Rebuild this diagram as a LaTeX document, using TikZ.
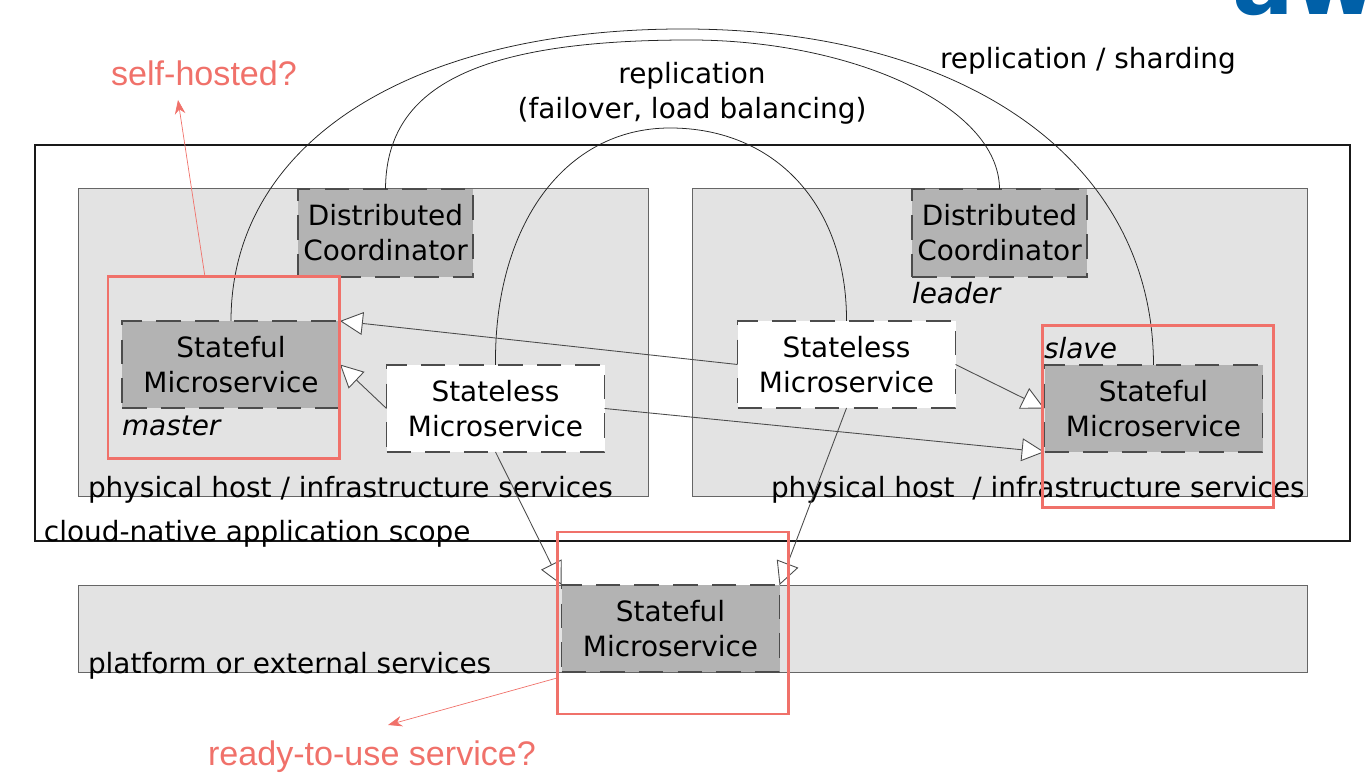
\documentclass[tikz,border=0pt]{standalone}
\usepackage{fontspec}
\setmainfont{DejaVu Sans}
\newfontfamily\redfont{Liberation Sans}
\usetikzlibrary{arrows.meta}
\definecolor{hostgray}{HTML}{E3E3E3}
\definecolor{servicegray}{HTML}{B3B3B3}
\definecolor{redmark}{HTML}{F0716A}
\definecolor{logoblue}{HTML}{0060A8}

\begin{document}
\begin{tikzpicture}
[x=0.01cm,y=-0.01cm,%%%%%%%%%%%%%%%%%%%%%%%%%%%%%%
every node/.style={inner sep=0pt,outer sep=0pt,font=\fontsize{7.94}{9.9}\selectfont},
line/.style={draw=black!70,line width=0.25pt},
hostbox/.style={rectangle,fill=hostgray,draw=black!60,line width=0.28pt},
scopebox/.style={rectangle,draw=black!90,line width=0.3pt,minimum width=1315*0.01cm,minimum height=396*0.01cm},
service/.style={rectangle,draw=black!70,line width=0.3pt,dash pattern=on 7pt off 4pt,align=center,minimum width=218*0.01cm,minimum height=87*0.01cm},
stateful/.style={service,fill=servicegray},
stateless/.style={service,fill=white},
coordinator/.style={service,fill=servicegray,minimum width=175*0.01cm,minimum height=88*0.01cm},
redbox/.style={rectangle,draw=redmark,line width=0.85pt,minimum width=231*0.01cm,minimum height=182*0.01cm},
redlabel/.style={text=redmark,font=\redfont\fontsize{9.7}{12}\selectfont},
arc/.style={draw=black!85,line width=0.22pt},
uses/.style={line,-{Triangle[open,fill=white,length=6.5pt,width=6.5pt]}},
redarrow/.style={draw=redmark,line width=0.2pt,-{Stealth[length=4pt,width=3pt]}},
]%%%%%%%%%%%%%%%%%%%%%%%%%%%%%%
\useasboundingbox (0,0) rectangle (1370,780);

\node[text=logoblue,anchor=base west,font=\bfseries\fontsize{26}{26}\selectfont] (logo) at (1232,15){aw};

\node[scopebox] (scope) at (692.5,343){};
\node[hostbox,minimum width=570*0.01cm,minimum height=307*0.01cm] (hostleft) at (363,342.5){};
\node[hostbox,minimum width=615*0.01cm,minimum height=307*0.01cm] (hostright) at (999.5,342.5){};
\node[hostbox,minimum width=1229*0.01cm,minimum height=87*0.01cm] (platform) at (692.5,628.5){};

\foreach \nm/\x in {dcleft/385.5,dcright/999.5}
\node[coordinator] (\nm) at (\x,233){Distributed\\Coordinator};

\foreach \nm/\x/\y in {master/231/364.5,slave/1153.5/408.5,external/670.5/628.5}
\node[stateful] (\nm) at (\x,\y){Stateful\\Microservice};

\foreach \nm/\x/\y in {freeleft/495.5/408.5,freeright/846.5/364.5}
\node[stateless] (\nm) at (\x,\y){Stateless\\Microservice};

\node[anchor=west] (hostlabelleft) at (88,489.5){physical host / infrastructure services};
\node[anchor=west] (hostlabelright) at (771,489.5){physical host\ \ / infrastructure services};
\node[anchor=west] (scopelabel) at (44,533.5){cloud-native application scope};
\node[anchor=west] (platformlabel) at (88,665.5){platform or external services};
\node[anchor=west,font=\fontsize{7.94}{9.9}\selectfont\itshape] (masterlabel) at (122,426){master};
\node[anchor=west,font=\fontsize{7.94}{9.9}\selectfont\itshape] (leaderlabel) at (912,293){leader};
\node[anchor=west,font=\fontsize{7.94}{9.9}\selectfont\itshape] (slavelabel) at (1044,348){slave};
\node[align=center] (replabel) at (692,93){replication\\(failover, load balancing)};
\node[anchor=west] (sharelabel) at (940,60.5){replication / sharding};

% replication arcs
\coordinate (peakouter) at (683,29);
\coordinate (peakdc) at (690,40);
\coordinate (peakfree) at (670,128);
\draw[arc] (master.north) .. controls (231,140) and (415,29) .. (peakouter) .. controls (965,29) and (1153,160) .. (slave.north);
\draw[arc] (dcleft.north) .. controls (386,90) and (470,40) .. (peakdc) .. controls (850,40) and (999,105) .. (dcright.north);
\draw[arc] (freeleft.north) .. controls (494,225) and (565,128) .. (peakfree) .. controls (775,128) and (847,205) .. (freeright.north);

% service calls
\draw[uses] (freeleft.west) -- (master.east);
\draw[uses] (freeright.west) -- (master.north east);
\draw[uses] (freeright.east) -- (slave.west);
\draw[uses] (freeleft.east) -- (slave.south west);
\draw[uses] (freeleft.south) -- (external.north west);
\draw[uses] (freeright.south) -- (external.north east);

% red remarks
\node[redbox] (redmaster) at (223.5,368){};
\node[redbox] (redslave) at (1158,416.5){};
\node[redbox] (redexternal) at (672.5,623){};
\node[redlabel] (selfhosted) at (204,73){self-hosted?};
\node[redlabel] (readyuse) at (372,757){ready-to-use service?};
\coordinate (selfroot) at (205,277);
\coordinate (selftip) at (178,100);
\coordinate (readyroot) at (557,678);
\coordinate (readytip) at (388,725);
\draw[redarrow] (selfroot) -- (selftip);
\draw[redarrow] (readyroot) -- (readytip);
\end{tikzpicture}
\end{document}
